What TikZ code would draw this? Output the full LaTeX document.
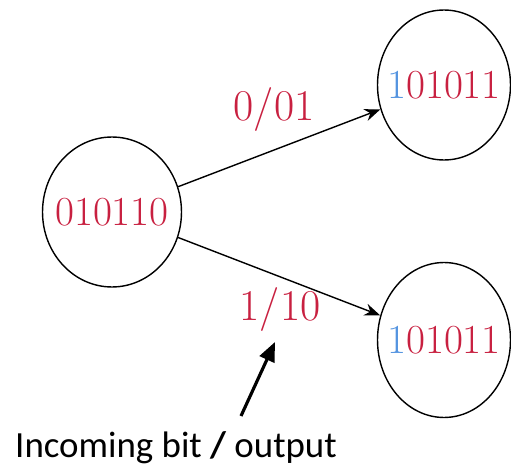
\documentclass[tikz,border=0pt]{standalone}
\usepackage{fontspec}
\usepackage{xcolor}
\usetikzlibrary{arrows.meta}
\usetikzlibrary{shapes.geometric}
\newfontfamily\notefont{Carlito}
\definecolor{statered}{RGB}{200,32,64}
\definecolor{bitblue}{RGB}{84,148,224}

\begin{document}
\begin{tikzpicture}[x=0.02cm,y=-0.02cm,
  state/.style={draw,thick,ellipse,minimum width=2.66cm,minimum height=3cm,inner ysep=0pt,inner xsep=-8pt,font=\fontsize{23.5}{26}\selectfont},
  lbl/.style={statered,font=\fontsize{25}{28}\selectfont},
  edge/.style={-{Stealth[length=9pt,width=7pt]},thick}]
\useasboundingbox (0,0) rectangle (511,470);
\node[state,minimum width=2.78cm] (s0) at (112,212) {\textcolor{statered}{010110}};
\node[state] (s1) at (444,85) {\textcolor{bitblue}{1}\textcolor{statered}{01011}};
\node[state,minimum height=3.1cm] (s2) at (444,340) {\textcolor{bitblue}{1}\textcolor{statered}{01011}};
\draw[edge] (s0) -- (s1);
\draw[edge] (s0) -- (s2);
\node[lbl] (in0) at (274,110) {0/01};
\node[lbl] (in1) at (280,310) {1/10};
% explanation of the edge label
\node[font=\notefont\fontsize{21}{24}\selectfont] (note) at (176,448) {Incoming bit {\bfseries /} output};
\coordinate (ptail) at (241,416);
\coordinate (ptip) at (275,342);
\draw[-{Triangle[length=11pt,width=9pt]},line width=1.8pt] (ptail) -- (ptip);
\end{tikzpicture}
\end{document}
